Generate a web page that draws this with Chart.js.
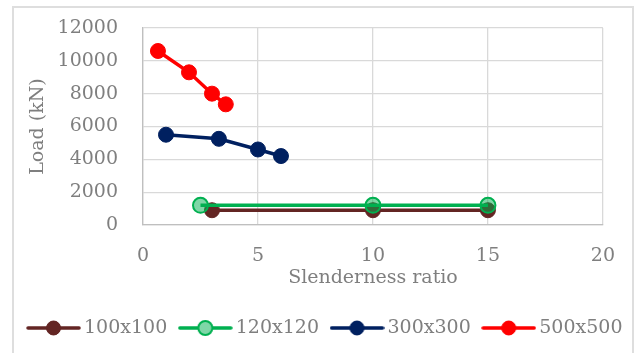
<!DOCTYPE html>
<html lang="en">
<head>
  <meta charset="UTF-8">
  <title>Load vs Slenderness ratio</title>
  <script src="https://cdn.jsdelivr.net/npm/chart.js@4.4.0/dist/chart.umd.min.js"></script>
  <style>
    body { margin: 0; background: #fff; }
    #wrap { position: relative; width: 635px; height: 353px; }
    #frame {
      position: absolute; left: 12px; top: 6px; width: 618px; height: 360px;
      border: 2px solid #dedede; pointer-events: none;
    }
  </style>
</head>
<body>
<div id="wrap">
  <canvas id="chart" width="635" height="353"></canvas>
  <div id="frame"></div>
</div>
<script>
// series names
var seriesNames = ['100x100', '120x120', '300x300', '500x500'];
// slenderness ratio (x) and load in kN (y) for each section
var x100 = [3, 10, 15];
var y100 = [900, 900, 900];
var x120 = [2.5, 10, 15];
var y120 = [1200, 1200, 1200];
var x300 = [1, 3.3, 5, 6];
var y300 = [5500, 5250, 4600, 4200];
var x500 = [0.65, 2, 3, 3.6];
var y500 = [10600, 9300, 8000, 7350];
// axis ticks
var xTicks = [0, 5, 10, 15, 20];
var yTicks = [0, 2000, 4000, 6000, 8000, 10000, 12000];

var colors = ['#632523', '#00B050', '#002060', '#FF0000'];
var fills = ['#632523', 'rgba(0,176,80,0.5)', '#002060', '#FF0000'];
var gray = '#7f7f7f';
var fontFamily = '"DejaVu Serif", serif';

function pts(xs, ys) {
  return xs.map(function (v, i) { return { x: v, y: ys[i] }; });
}
var allX = [x100, x120, x300, x500];
var allY = [y100, y120, y300, y500];

// little line+marker pictures for the legend
function legendIcon(i) {
  var c = document.createElement('canvas');
  c.width = 55; c.height = 18;
  var g = c.getContext('2d');
  g.strokeStyle = colors[i];
  g.lineWidth = 3.5;
  g.lineCap = 'round';
  g.beginPath(); g.moveTo(2, 9); g.lineTo(53, 9); g.stroke();
  g.beginPath(); g.arc(27.5, 9, 7, 0, Math.PI * 2);
  g.fillStyle = i === 1 ? '#fff' : colors[i];
  g.fill();
  g.fillStyle = fills[i];
  g.fill();
  g.lineWidth = i === 1 ? 2 : 1;
  g.stroke();
  return c;
}
var icons = [0, 1, 2, 3].map(legendIcon);

var datasets = seriesNames.map(function (name, i) {
  return {
    label: name,
    data: pts(allX[i], allY[i]),
    borderColor: colors[i],
    backgroundColor: fills[i],
    pointBackgroundColor: fills[i],
    pointBorderColor: colors[i],
    pointBorderWidth: i === 1 ? 2 : 1,
    pointRadius: 7.5,
    borderWidth: 3.5,
    showLine: true,
    order: 4 - i
  };
});

// nudge the legend to the right so it sits where the reference has it
var shiftLegend = {
  id: 'shiftLegend',
  afterLayout: function (chart) {
    chart.legend.left += 10;
    chart.legend.right += 10;
  }
};

Chart.defaults.font.family = fontFamily;
Chart.defaults.font.size = 19;
Chart.defaults.color = gray;

new Chart(document.getElementById('chart'), {
  type: 'scatter',
  data: { datasets: datasets },
  plugins: [shiftLegend],
  options: {
    responsive: false,
    animation: false,
    layout: { padding: { top: 28, left: 0, right: 0, bottom: 5.5 } },
    scales: {
      x: {
        type: 'linear', min: 0, max: 20,
        afterBuildTicks: function (s) { s.ticks = xTicks.map(function (v) { return { value: v }; }); },
        afterFit: function (s) { s.height = 76.5; },
        grid: { color: '#d9d9d9', lineWidth: 1.3, drawTicks: false },
        border: { color: '#bfbfbf', width: 1.3 },
        ticks: { padding: 20, color: gray, callback: function (v) { return String(v); } },
        title: { display: true, text: 'Slenderness ratio', color: gray, padding: { top: 0, bottom: 12 } }
      },
      y: {
        type: 'linear', min: 0, max: 12000,
        afterBuildTicks: function (s) { s.ticks = yTicks.map(function (v) { return { value: v }; }); },
        afterFit: function (s) { s.width = 143; },
        grid: { color: '#d9d9d9', lineWidth: 1.3, drawTicks: true, tickLength: 25, tickColor: 'rgba(0,0,0,0)' },
        border: { color: '#bfbfbf', width: 1.3 },
        ticks: { padding: 0, color: gray, callback: function (v) { return String(v); } },
        title: { display: true, text: 'Load (kN)', color: gray, padding: { top: 27, bottom: 0 } }
      },
      yRight: {
        type: 'linear', position: 'right', min: 0, max: 1,
        afterFit: function (s) { s.width = 31; },
        grid: { display: false },
        border: { display: false },
        ticks: { display: false }
      }
    },
    plugins: {
      legend: {
        position: 'bottom',
        labels: {
          usePointStyle: true,
          pointStyleWidth: 42,
          padding: 17,
          color: gray,
          generateLabels: function (chart) {
            var items = Chart.defaults.plugins.legend.labels.generateLabels(chart);
            items.sort(function (a, b) { return a.datasetIndex - b.datasetIndex; });
            items.forEach(function (it) { it.pointStyle = icons[it.datasetIndex]; });
            return items;
          }
        }
      },
      tooltip: { enabled: false }
    }
  }
});
</script>
</body>
</html>
